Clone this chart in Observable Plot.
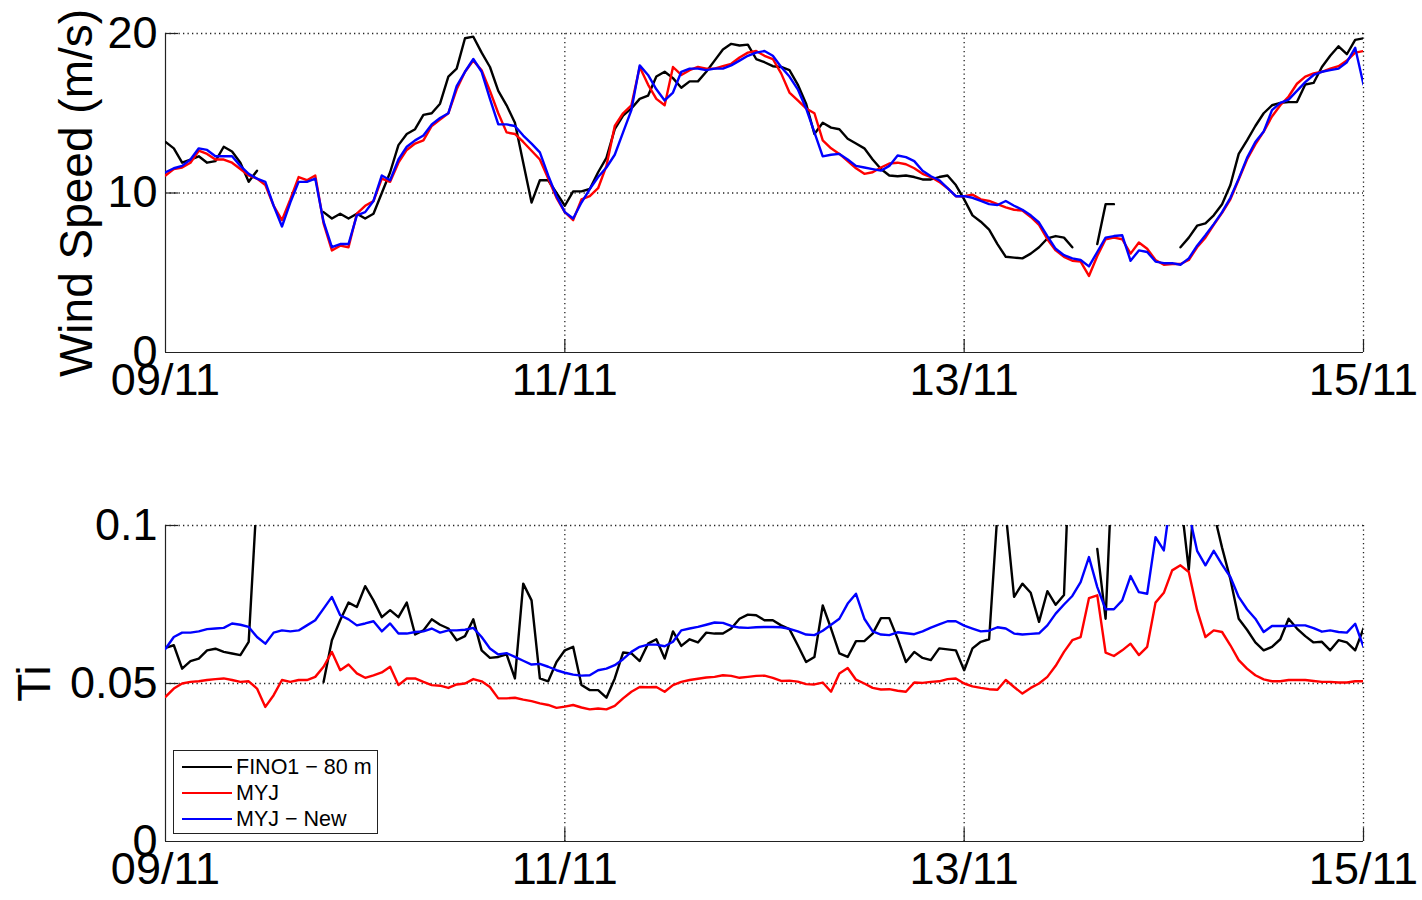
<!DOCTYPE html>
<html><head><meta charset="utf-8">
<script src="https://cdn.jsdelivr.net/npm/d3@7"></script>
<script src="https://cdn.jsdelivr.net/npm/@observablehq/plot@0.6"></script>
<style>
body{margin:0;background:#fff;font-family:"Liberation Sans",Arial,sans-serif;}
#wrap{position:relative;width:1422px;height:900px;overflow:hidden;}
#wrap svg{display:block;}
#legend{position:absolute;left:173px;top:750px;width:205px;height:84px;border:1.5px solid #222;background:#fff;font-size:21.5px;line-height:26px;padding-top:3px;box-sizing:border-box;}
#legend .row{display:flex;align-items:center;height:26px;}
#legend .sw{width:50px;height:0;border-top:2.5px solid;margin-left:8px;margin-right:4px;}
</style></head><body><div id="wrap"></div>
<script>
// time axis: hours since 09/11 00:00 (hourly values)
const hours = d3.range(0, 145);
const dayTicks = [0, 48, 96, 144];
const dayLabels = ["09/11", "11/11", "13/11", "15/11"];
const seriesNames = ["FINO1 − 80 m", "MYJ", "MYJ − New"];
const seriesColors = ["#000000", "#ff0000", "#0000ff"];

// Wind speed (m/s)
const wsFino = [13.2,12.8,11.9,12.1,12.3,11.9,12.0,12.9,12.6,11.9,10.7,11.4,
 null,null,null,null,null,null,null,
 8.8,8.4,8.7,8.4,8.7,8.4,8.7,10.0,11.3,13.0,13.7,14.0,14.9,15.0,15.6,17.3,17.8,19.7,
 19.8,18.8,17.9,16.4,15.5,14.4,11.9,9.4,10.8,10.8,10.0,9.2,10.1,10.1,10.25,11.3,12.2,14.0,14.85,15.3,15.9,16.1,17.3,17.6,17.2,16.6,17.0,17.0,17.6,18.3,19.0,19.35,19.25,19.3,18.4,18.2,
 17.95,17.9,17.7,16.8,15.6,13.7,14.4,14.1,14.0,13.4,13.1,12.8,12.1,11.5,11.1,11.05,11.1,11.0,10.85,10.85,11.0,11.1,10.5,9.6,8.6,8.2,7.7,6.8,6.0,5.95,5.9,6.2,6.6,7.15,7.3,7.2,
 6.6,null,null,6.8,9.3,9.3,null,null,null,null,null,null,null,
 6.6,7.2,7.95,8.1,8.6,9.3,10.5,12.45,13.3,14.2,15.0,15.5,15.65,15.7,15.7,16.8,16.9,17.9,18.6,19.2,18.7,19.6,19.7];
const wsMyj = [11.1,11.5,11.6,11.9,12.65,12.45,12.1,12.1,11.9,11.5,11.1,10.9,10.5,9.2,8.3,9.6,11.0,10.8,11.1,8.1,6.4,6.7,6.6,8.7,9.2,9.5,10.9,10.7,11.9,12.7,13.1,13.3,14.2,14.6,15.0,16.5,17.6,
 18.3,17.7,16.4,15.0,13.8,13.7,13.2,12.65,12.1,10.9,9.7,8.8,8.3,9.6,9.8,10.3,11.7,14.2,15.0,15.5,17.9,16.8,15.9,15.5,17.9,17.4,17.7,17.9,17.8,17.8,17.95,18.1,18.5,18.8,18.9,18.6,
 18.4,17.5,16.3,15.8,15.3,15.0,13.3,12.8,12.45,12.0,11.55,11.2,11.3,11.6,11.85,11.9,11.8,11.55,11.2,11.0,10.7,10.3,9.8,9.8,9.9,9.6,9.5,9.3,9.1,8.95,8.9,8.5,8.0,7.1,6.4,6.0,
 5.75,5.7,4.8,6.05,7.1,7.2,7.1,6.2,6.9,6.5,5.8,5.5,5.55,5.55,5.8,6.6,7.2,8.0,8.75,9.6,10.85,12.1,13.05,13.85,14.8,15.5,16.05,16.85,17.3,17.5,17.6,17.8,17.95,18.3,18.8,18.9];
const wsMyjNew = [11.3,11.55,11.7,12.1,12.8,12.7,12.3,12.3,12.3,11.7,11.2,10.9,10.7,9.2,7.9,9.4,10.7,10.7,10.9,8.2,6.6,6.8,6.8,8.6,8.8,9.5,11.1,10.8,12.1,12.9,13.3,13.6,14.3,14.7,15.0,16.7,17.6,
 18.4,17.6,15.9,14.3,14.3,14.2,13.6,13.1,12.55,11.1,9.8,8.8,8.4,9.4,10.25,11.0,11.6,12.4,13.8,15.2,18.0,17.4,16.5,15.8,16.3,17.6,17.8,17.8,17.7,17.8,17.8,18.0,18.3,18.6,18.8,18.9,
 18.6,17.9,17.3,16.5,15.3,13.8,12.3,12.4,12.45,12.1,11.7,11.6,11.5,11.4,11.7,12.35,12.25,12.0,11.4,11.05,10.8,10.3,9.8,9.8,9.7,9.5,9.3,9.25,9.5,9.2,8.95,8.6,8.15,7.3,6.5,6.1,
 5.9,5.8,5.4,6.3,7.2,7.3,7.35,5.75,6.4,6.3,5.7,5.6,5.6,5.5,5.9,6.7,7.35,8.05,8.8,9.7,10.9,12.2,13.2,13.85,15.2,15.65,15.85,16.4,16.95,17.4,17.6,17.7,17.8,18.2,19.1,16.8];

// Turbulence intensity
const tiFino = [0.0613,0.0621,0.0547,0.0571,0.0579,0.0605,0.061,0.06,0.0595,0.059,0.0632,0.11,
 null,null,null,null,null,null,null,
 0.0505,0.0637,0.07,0.0756,0.0742,0.0808,0.0763,0.071,0.0732,0.071,0.0756,0.0655,0.0668,0.0703,0.0686,0.0674,0.0637,0.065,
 0.0703,0.0605,0.0581,0.0584,0.0592,0.0516,0.0816,0.0763,0.0516,0.0507,0.0568,0.0605,0.0616,0.0495,0.0479,0.0479,0.0455,0.0516,0.0598,0.0595,0.0571,0.0626,0.064,0.0579,0.0665,0.0619,0.064,0.063,0.0661,0.0658,0.0658,0.0674,0.0705,0.0718,0.0716,0.07,
 0.07,0.0684,0.0672,0.0621,0.0568,0.0584,0.0747,0.0674,0.0595,0.0584,0.0634,0.0634,0.0658,0.0707,0.0707,0.0642,0.0568,0.06,0.0581,0.0574,0.0611,0.0608,0.0605,0.0542,0.0611,0.0632,0.064,0.104,0.104,0.0774,0.0816,0.0787,0.0695,0.0792,0.0749,0.078,
 0.145,null,null,0.0926,0.0705,0.13,null,null,null,null,null,null,null,
 0.109,0.086,0.121,0.13,0.104,0.093,0.083,0.0705,0.067,0.063,0.0605,0.0616,0.064,0.0705,0.0674,0.065,0.063,0.0632,0.0605,0.0637,0.063,0.0605,0.0674];
const tiMyj = [0.0458,0.0484,0.05,0.0505,0.0507,0.0511,0.0514,0.0516,0.0511,0.0505,0.0507,0.0484,0.0426,0.0463,0.0511,0.0505,0.0511,0.0511,0.0521,0.0553,0.06,0.0542,0.056,0.0532,0.0518,0.0526,0.0535,0.0553,0.0495,0.0516,0.0516,0.0505,0.0495,0.0493,0.0486,0.0497,0.05,
 0.0514,0.0507,0.0489,0.0453,0.0453,0.0455,0.0449,0.0444,0.0437,0.0432,0.0423,0.0427,0.0432,0.0424,0.0418,0.0421,0.0418,0.0429,0.0453,0.0474,0.0489,0.0488,0.0489,0.0474,0.0495,0.0505,0.0511,0.0515,0.0519,0.0521,0.0526,0.0524,0.0518,0.0521,0.0524,0.0525,
 0.0518,0.0508,0.0509,0.0506,0.0498,0.0497,0.0503,0.0474,0.0532,0.0549,0.0512,0.05,0.0486,0.0481,0.0482,0.0477,0.0474,0.0503,0.0502,0.0505,0.0507,0.0514,0.0516,0.05,0.0491,0.0486,0.0482,0.048,0.0511,0.0489,0.0468,0.0486,0.05,0.0521,0.0556,0.06,
 0.0637,0.0647,0.077,0.0779,0.0598,0.0587,0.0605,0.0626,0.059,0.0616,0.0756,0.0787,0.0858,0.0874,0.0853,0.0732,0.0647,0.0668,0.0663,0.0621,0.0574,0.0547,0.0526,0.0513,0.0507,0.0507,0.0511,0.0511,0.0511,0.0508,0.0505,0.0505,0.0503,0.0503,0.0507,0.0507];
const tiMyjNew = [0.061,0.0647,0.0661,0.0661,0.0665,0.0672,0.0674,0.0676,0.069,0.0686,0.0679,0.0647,0.0626,0.0661,0.0668,0.0665,0.0668,0.0684,0.07,0.0737,0.0774,0.0716,0.0703,0.0684,0.069,0.0697,0.0665,0.069,0.0658,0.0658,0.0663,0.0665,0.0674,0.0661,0.0668,0.0668,0.0670,
 0.0676,0.0647,0.0611,0.0592,0.0596,0.0584,0.0572,0.056,0.0562,0.0553,0.0542,0.0534,0.0528,0.0525,0.0526,0.0542,0.0547,0.0558,0.0577,0.06,0.0616,0.0623,0.0623,0.0618,0.0632,0.0668,0.0674,0.0679,0.0686,0.0693,0.0692,0.0682,0.0677,0.0676,0.0678,0.0679,
 0.0679,0.0678,0.0673,0.0665,0.0655,0.0653,0.0667,0.0686,0.0705,0.0753,0.0784,0.0705,0.0665,0.0655,0.0653,0.0662,0.0659,0.0656,0.0665,0.0677,0.0687,0.0697,0.0697,0.0683,0.0674,0.0665,0.0667,0.0678,0.0674,0.0658,0.0655,0.0657,0.0659,0.0684,0.0721,0.0750,
 0.0777,0.0821,0.09,0.0805,0.0735,0.0735,0.0763,0.084,0.0789,0.0784,0.0963,0.0921,0.112,0.118,0.104,0.092,0.0874,0.092,0.0876,0.0837,0.0774,0.0735,0.0705,0.0663,0.0682,0.0682,0.0682,0.0684,0.0684,0.0675,0.0664,0.0668,0.0663,0.0661,0.0689,0.0616];

const wsTicks = [0, 10, 20];
const wsTickLabels = ["0", "10", "20"];
const tiTicks = [0, 0.05, 0.1];
const tiTickLabels = ["0", "0.05", "0.1"];

function rows(values) { return hours.map((h, i) => ({hour: h, value: values[i]})); }

const FONT = "Liberation Sans, Arial, Helvetica, sans-serif";
const TICK_PX = 13;

function panel({series, yDomain, yTicks, yTickLabels, yLabel, labelDx, height, marginTop, marginBottom}) {
  const W = 1422, mL = 165, mR = 59;
  const plotH = height - marginTop - marginBottom;
  const plotW = W - mL - mR;
  const yTickLen = (yDomain[1] - yDomain[0]) * TICK_PX / plotH;
  const xTickLen = 144 * TICK_PX / plotW;
  const dots = {stroke: "#222", strokeWidth: 1.3, strokeDasharray: "1.3,3.2"};
  const solid = {stroke: "#222", strokeWidth: 1.2};
  const marks = [
    Plot.ruleY(yTicks.filter(t => t > yDomain[0]), {...dots}),
    Plot.ruleX(dayTicks.filter(t => t > 0), {...dots}),
    Plot.ruleX(dayTicks.filter(t => t > 0), {x: d => d, y1: yDomain[0], y2: yDomain[0] + yTickLen, ...solid}),
    Plot.ruleY(yTicks.filter(t => t > yDomain[0]), {y: d => d, x1: 0, x2: xTickLen, ...solid}),
    Plot.ruleX([0], {...solid}),
    Plot.ruleY([yDomain[0]], {...solid}),
    ...series.map((vals, i) => Plot.line(rows(vals), {x: "hour", y: "value", stroke: seriesColors[i], strokeWidth: 2.4, clip: true})),
    Plot.axisX({ticks: dayTicks, tickFormat: d => dayLabels[dayTicks.indexOf(d)], tickSize: 0, tickPadding: 11, label: null, fontSize: 45}),
    Plot.axisY({ticks: yTicks, tickFormat: d => yTickLabels[yTicks.indexOf(d)], tickSize: 0, tickPadding: 8, label: null, fontSize: 45}),
    Plot.text([yLabel], {text: d => d, frameAnchor: "left", textAnchor: "middle", dx: labelDx, rotate: -90, fontSize: 46})
  ];
  return Plot.plot({
    width: W, height, marginLeft: mL, marginRight: mR, marginTop, marginBottom,
    x: {domain: [0, 144]},
    y: {domain: yDomain},
    style: {fontFamily: FONT, fontSize: "45px", background: "transparent", overflow: "visible", color: "#000"},
    marks
  });
}

const wrap = document.getElementById("wrap");
wrap.appendChild(panel({series: [wsFino, wsMyj, wsMyjNew], yDomain: [0, 20], yTicks: wsTicks, yTickLabels: wsTickLabels, yLabel: "Wind Speed (m/s)", labelDx: -88, height: 450, marginTop: 33, marginBottom: 98}));
wrap.appendChild(panel({series: [tiFino, tiMyj, tiMyjNew], yDomain: [0, 0.1], yTicks: tiTicks, yTickLabels: tiTickLabels, yLabel: "Ti", labelDx: -130, height: 450, marginTop: 75, marginBottom: 59}));

const legend = document.createElement("div");
legend.id = "legend";
seriesNames.forEach((name, i) => {
  const row = document.createElement("div");
  row.className = "row";
  const sw = document.createElement("span");
  sw.className = "sw";
  sw.style.borderTopColor = seriesColors[i];
  const tx = document.createElement("span");
  tx.textContent = name;
  row.appendChild(sw); row.appendChild(tx);
  legend.appendChild(row);
});
wrap.appendChild(legend);
</script>
</body></html>
